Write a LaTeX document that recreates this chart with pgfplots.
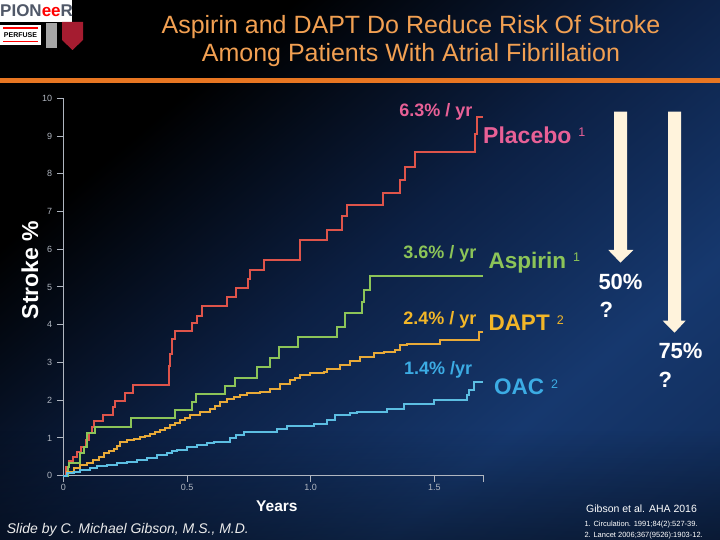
\documentclass[border=0pt]{standalone}
\usepackage{fontspec}
\setmainfont{Liberation Sans}
\usepackage{pgfplots}
\pgfplotsset{compat=1.18}
\usetikzlibrary{fadings}

\definecolor{bgnavy}{RGB}{22,56,110}
\definecolor{bgnavy2}{RGB}{12,32,68}
\definecolor{titleor}{RGB}{242,160,82}
\definecolor{lineor}{RGB}{232,118,34}
\definecolor{cred}{RGB}{222,84,74}
\definecolor{cgreen}{RGB}{140,196,88}
\definecolor{cyellow}{RGB}{232,170,56}
\definecolor{cblue}{RGB}{92,190,226}
\definecolor{tpink}{RGB}{232,96,150}
\definecolor{tgreen}{RGB}{140,196,88}
\definecolor{tyellow}{RGB}{242,182,40}
\definecolor{tblue}{RGB}{60,172,228}
\definecolor{axgray}{RGB}{176,182,192}
\definecolor{cream}{RGB}{255,243,220}
\definecolor{harvard}{RGB}{165,28,48}
\definecolor{logogray}{RGB}{80,88,104}

\pgfdeclarehorizontalshading{bgsh}{100bp}{color(0bp)=(black); color(30bp)=(black); color(50bp)=(bgnavy2); color(68bp)=(bgnavy); color(100bp)=(bgnavy2)}

\newcommand{\sups}[1]{\hspace{7pt}\raisebox{6.5pt}{\fontsize{12.5}{12.5}\selectfont\mdseries #1}}

\begin{document}
\begin{tikzpicture}[x=1pt,y=1pt]
% background
\shade[shading=bgsh, shading angle=-50] (0,0) rectangle (720,540);
\fill[black, path fading=north, fill opacity=0.4] (0,0) rectangle (720,110);
% orange rule
\fill[lineor] (0,457) rectangle (720,462);
% title
\node[text=titleor, align=center, font=\fontsize{25}{28}\selectfont] at (411,499)
  {Aspirin and DAPT Do Reduce Risk Of Stroke\\Among Patients With Atrial Fibrillation};
% logos
\fill[white] (0,518) rectangle (72,540);
\node[anchor=base west, inner sep=0pt, text=logogray, font=\bfseries\fontsize{17}{17}\selectfont] at (0,523) {PION\textcolor{red}{ee}R};
\fill[white] (0,495) rectangle (41,515);
\fill[red] (3,511) rectangle (38,512.5);
\fill[red] (3,497.5) rectangle (38,499);
\node[inner sep=0pt, text=black, font=\bfseries\fontsize{7}{7}\selectfont] at (20.5,505) {PERFUSE};
\fill[gray!70] (46,492) rectangle (57,517);
\fill[harvard] (62,518) -- (83,518) -- (83,500) -- (72.5,490) -- (62,500) -- cycle;

\begin{axis}[
  at={(63.3pt,64.3pt)}, anchor=south west,
  scale only axis, width=420.6pt, height=377.4pt,
  xmin=0, xmax=1.7, ymin=0, ymax=10,
  axis lines=left,
  axis line style={-, draw=axgray, line width=1pt},
  tick align=outside, major tick length=6.5pt,
  tick style={draw=axgray, line width=1pt},
  xtick={0,0.5,1,1.5}, xticklabels={0,0.5,1.0,1.5},
  extra x ticks={1.7}, extra x tick labels={},
  ytick={0,1,...,10},
  xticklabel style={text=axgray, font=\fontsize{9}{10}\selectfont, inner sep=1.5pt},
  yticklabel style={text=axgray, font=\fontsize{9}{10}\selectfont, inner sep=1.5pt, xshift=-3pt},
  /pgf/number format/assume math mode=true,
  clip=false,
]
\addplot[cred, line width=2pt, const plot] coordinates {
(0,0)(0.011,0.24)(0.025,0.40)(0.041,0.50)(0.055,0.63)(0.071,0.77)(0.093,0.94)(0.102,1.12)
(0.116,1.30)(0.126,1.46)(0.160,1.61)(0.199,1.81)(0.209,1.98)(0.248,2.20)(0.282,2.40)
(0.426,2.90)(0.432,3.22)(0.439,3.63)(0.453,3.84)(0.520,4.05)(0.540,4.22)(0.561,4.49)
(0.662,4.74)(0.699,4.97)(0.747,5.20)(0.756,5.46)(0.810,5.72)(0.955,6.25)(1.066,6.52)
(1.127,6.87)(1.147,7.16)(1.291,7.49)(1.359,7.84)(1.382,8.19)(1.423,8.59)(1.665,9.05)
(1.672,9.50)(1.696,9.50)};
\addplot[cgreen, line width=2pt, const plot] coordinates {
(0,0)(0.017,0.24)(0.025,0.34)(0.069,0.59)(0.082,0.77)(0.096,1.12)(0.129,1.30)(0.275,1.52)
(0.453,1.74)(0.520,1.96)(0.538,2.16)(0.655,2.37)(0.695,2.60)(0.783,2.88)(0.834,3.12)
(0.870,3.40)(0.949,3.67)(1.106,3.94)(1.140,4.30)(1.207,4.60)(1.217,4.91)(1.241,5.28)
(1.698,5.28)};
\addplot[cyellow, line width=2pt, const plot] coordinates {
(0,0)(0.015,0.11)(0.042,0.20)(0.069,0.28)(0.095,0.33)(0.122,0.42)(0.145,0.50)(0.163,0.59)
(0.185,0.65)(0.203,0.72)(0.218,0.80)(0.230,0.90)(0.257,0.94)(0.285,0.98)(0.311,1.03)
(0.332,1.06)(0.352,1.10)(0.372,1.15)(0.392,1.21)(0.412,1.27)(0.432,1.34)(0.452,1.40)
(0.473,1.47)(0.493,1.54)(0.513,1.61)(0.554,1.69)(0.594,1.78)(0.614,1.85)(0.634,1.96)
(0.660,2.02)(0.688,2.09)(0.715,2.13)(0.743,2.18)(0.796,2.22)(0.837,2.31)(0.877,2.44)
(0.918,2.53)(0.938,2.60)(0.958,2.66)(0.998,2.71)(1.052,2.75)(1.066,2.84)(1.120,2.93)
(1.160,3.04)(1.200,3.15)(1.254,3.24)(1.295,3.28)(1.342,3.34)(1.362,3.46)(1.389,3.50)
(1.524,3.59)(1.679,3.81)(1.696,3.81)};
\addplot[cblue, line width=2pt, const plot] coordinates {
(0,0)(0.015,0.06)(0.042,0.11)(0.069,0.15)(0.109,0.20)(0.136,0.26)(0.177,0.28)(0.217,0.33)
(0.257,0.37)(0.298,0.42)(0.338,0.46)(0.379,0.55)(0.419,0.59)(0.440,0.66)(0.460,0.68)
(0.500,0.77)(0.540,0.81)(0.581,0.86)(0.608,0.90)(0.675,0.99)(0.700,1.08)(0.729,1.15)
(0.844,1.16)(0.864,1.23)(0.904,1.31)(1.012,1.37)(1.066,1.47)(1.099,1.61)(1.160,1.67)
(1.187,1.69)(1.308,1.78)(1.376,1.90)(1.497,2.00)(1.632,2.13)(1.638,2.27)(1.658,2.48)
(1.696,2.48)};
\end{axis}

% axis titles
\node[rotate=90, anchor=base, inner sep=0pt, text=white, font=\bfseries\fontsize{23}{23}\selectfont] at (38,270) {Stroke \%};
\node[anchor=base west, inner sep=0pt, text=white, font=\bfseries\fontsize{15.5}{16}\selectfont] at (256,28.3) {Years};

% rate labels
\node[anchor=base east, inner sep=0pt, text=tpink, font=\bfseries\fontsize{18}{18}\selectfont] at (472.7,423.3) {6.3\% / yr};
\node[anchor=base west, inner sep=0pt, text=tpink, font=\bfseries\fontsize{23}{23}\selectfont] at (483,396.7) {Placebo\sups{1}};
\node[anchor=base east, inner sep=0pt, text=tgreen, font=\bfseries\fontsize{18}{18}\selectfont] at (476.7,281.7) {3.6\% / yr};
\node[anchor=base west, inner sep=0pt, text=tgreen, font=\bfseries\fontsize{22.5}{23}\selectfont] at (488.3,271.7) {Aspirin\sups{1}};
\node[anchor=base east, inner sep=0pt, text=tyellow, font=\bfseries\fontsize{18}{18}\selectfont] at (476.7,215) {2.4\% / yr};
\node[anchor=base west, inner sep=0pt, text=tyellow, font=\bfseries\fontsize{22.5}{23}\selectfont] at (488.3,209.3) {DAPT\sups{2}};
\node[anchor=base east, inner sep=0pt, text=tblue, font=\bfseries\fontsize{18}{18}\selectfont] at (472.3,165) {1.4\% /yr};
\node[anchor=base west, inner sep=0pt, text=tblue, font=\bfseries\fontsize{22.5}{23}\selectfont] at (494,145) {OAC\sups{2}};

% arrows
\fill[cream] (614,428.3) -- (627,428.3) -- (627,290) -- (633.3,290) -- (620.5,277.3) -- (608.3,290) -- (614,290) -- cycle;
\fill[cream] (668,428.3) -- (681,428.3) -- (681,219.3) -- (685.7,219.3) -- (674.5,207.3) -- (662.7,219.3) -- (668,219.3) -- cycle;
\node[anchor=base west, inner sep=0pt, text=white, font=\bfseries\fontsize{22}{22}\selectfont] at (598.3,250.7) {50\%};
\node[anchor=base west, inner sep=0pt, text=white, font=\bfseries\fontsize{22}{22}\selectfont] at (599.3,222.7) {?};
\node[anchor=base west, inner sep=0pt, text=white, font=\bfseries\fontsize{22}{22}\selectfont] at (658.3,181.7) {75\%};
\node[anchor=base west, inner sep=0pt, text=white, font=\bfseries\fontsize{22}{22}\selectfont] at (658.3,152.7) {?};

% footers
\node[anchor=base west, inner sep=0pt, text=white, font=\fontsize{10.5}{11}\selectfont] at (586,27.3) {Gibson et al. AHA 2016};
\node[anchor=base west, inner sep=0pt, text=white, font=\fontsize{7.5}{8}\selectfont] at (584.3,13.3) {1. Circulation. 1991;84(2):527-39.};
\node[anchor=base west, inner sep=0pt, text=white, font=\fontsize{7.5}{8}\selectfont] at (584.3,2.7) {2. Lancet 2006;367(9526):1903-12.};
\node[anchor=base west, inner sep=0pt, text=white!92!black, font=\itshape\fontsize{14}{14}\selectfont] at (6.7,6) {Slide by C. Michael Gibson, M.S., M.D.};
\end{tikzpicture}
\end{document}
